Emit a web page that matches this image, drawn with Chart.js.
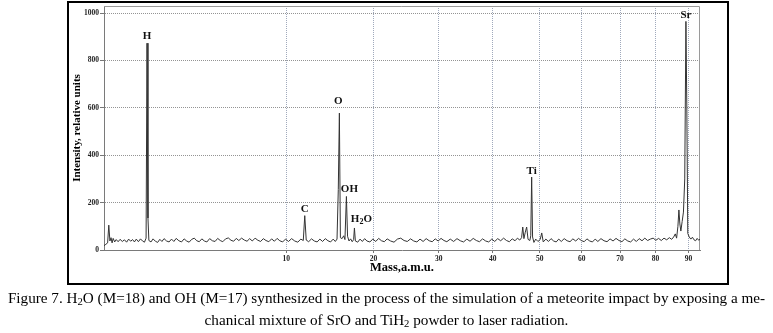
<!DOCTYPE html>
<html>
<head>
<meta charset="utf-8">
<script src="https://cdn.jsdelivr.net/npm/chart.js@4/dist/chart.umd.min.js"></script>
<style>
    body { margin: 0; background: #fff; width: 773px; height: 333px; position: relative; overflow: hidden; }
    #frame { position: absolute; left: 67px; top: 1px; width: 658px; height: 280px; border: 2px solid #000; }
    #chart { position: absolute; left: 0; top: 0; }
    #caption { position: absolute; left: 0; top: 287px; width: 773px; text-align: center;
        font-family: "Liberation Serif", serif; font-size: 15.2px; line-height: 22px; color: #000; }
    #caption sub { font-size: 0.7em; line-height: 0; vertical-align: -0.2em; }
</style>
</head>
<body>
<div id="frame"></div>
<canvas id="chart" width="773" height="290"></canvas>
<div id="caption">Figure 7. H<sub>2</sub>O (M=18) and OH (M=17) synthesized in the process of the simulation of a meteorite impact by exposing a me-<br>chanical mixture of SrO and TiH<sub>2</sub> powder to laser radiation.</div>

<script>
// SPECTRUM (mass in a.m.u., intensity in relative units)
const mass = [
    0.40, 0.43, 0.46, 0.48, 0.50, 0.52, 0.54, 0.56, 0.59, 0.62, 0.66, 0.70, 0.75, 0.80, 0.85, 0.90, 0.95,
    1.00, 1.05, 1.10, 1.16, 1.22, 1.28, 1.34, 1.39, 1.42, 1.45, 1.48, 1.55, 1.62, 1.70, 1.78, 1.86, 1.94,
    2.02, 2.12, 2.22, 2.32, 2.42, 2.52, 2.64, 2.76, 2.88, 3.00, 3.12, 3.25, 3.38, 3.51, 3.64, 3.78, 3.92,
    4.06, 4.22, 4.38, 4.54, 4.70, 4.86, 5.02, 5.20, 5.38, 5.56, 5.74, 5.92, 6.10, 6.30, 6.50, 6.70, 6.90,
    7.10, 7.32, 7.54, 7.76, 7.98, 8.20, 8.44, 8.68, 8.92, 9.16, 9.40, 9.66, 9.92,
    10.2, 10.5, 10.8, 11.1, 11.4, 11.65, 11.8, 11.95, 12.2, 12.5, 12.8, 13.1, 13.4, 13.7, 14.0, 14.3, 14.6,
    14.9, 15.15, 15.35, 15.5, 15.63, 15.75, 15.95, 16.15, 16.3, 16.48, 16.62, 16.8, 17.0, 17.2, 17.38, 17.48,
    17.6, 17.9, 18.2, 18.5, 18.8, 19.1, 19.5, 19.9,
    20.3, 20.7, 21.1, 21.5, 21.9, 22.4, 22.9, 23.4, 23.9, 24.4, 24.9, 25.4, 25.9, 26.4, 26.9, 27.4, 27.9,
    28.4, 28.9, 29.4, 29.9, 30.4, 30.9, 31.4, 32.0, 32.6, 33.2, 33.8, 34.4, 35.0, 35.6, 36.2, 36.8, 37.4,
    38.0, 38.6, 39.2, 39.8,
    40.4, 41.0, 41.6, 42.2, 42.8, 43.4, 44.0, 44.6, 45.1, 45.6, 46.0, 46.25, 46.5, 46.8, 47.1, 47.4, 47.8,
    48.0, 48.2, 48.4, 48.7, 49.1, 49.6, 50.1, 50.46, 50.8, 51.4, 52.0, 52.6, 53.2, 53.8, 54.4, 55.0, 55.7,
    56.4, 57.1, 57.8, 58.5, 59.2, 59.9,
    60.6, 61.3, 62.0, 62.7, 63.4, 64.1, 64.9, 65.7, 66.5, 67.3, 68.1, 68.9, 69.7, 70.5, 71.3, 72.1, 72.9,
    73.7, 74.5, 75.3, 76.1, 76.9, 77.7, 78.5, 79.3,
    80.1, 80.9, 81.7, 82.5, 83.3, 84.1, 84.8, 85.4, 85.9, 86.3, 86.7, 87.0, 87.3, 87.6, 88.0, 88.4, 88.8,
    89.17, 89.45, 89.75, 90.2, 90.7, 91.2, 91.7, 92.2, 92.7, 93.2, 93.6
];
const intensity = [
    18, 24, 30, 105, 38, 52, 30, 49, 34, 44, 35, 45, 36, 43, 33, 46, 37,
    44, 34, 46, 35, 47, 38, 33, 50, 873, 135, 40, 34, 47, 37, 32, 45, 36,
    48, 38, 34, 46, 36, 49, 39, 34, 47, 38, 33, 45, 50, 39, 35, 47, 38,
    34, 48, 39, 36, 49, 40, 35, 47, 51, 41, 37, 49, 40, 50, 42, 37, 48,
    38, 50, 41, 36, 48, 40, 35, 47, 37, 49, 39, 34, 46,
    36, 48, 38, 33, 46, 40, 145, 42, 35, 47, 38, 34, 46, 36, 48, 39, 34,
    46, 36, 46, 255, 578, 52, 48, 60, 44, 226, 58, 38, 47, 35, 44, 93,
    38, 33, 46, 36, 48, 38, 34, 46,
    36, 49, 39, 35, 47, 38, 33, 46, 50, 40, 36, 47, 38, 34, 46, 36, 48,
    39, 35, 47, 38, 49, 40, 35, 46, 36, 48, 39, 34, 46, 37, 49, 40, 35,
    47, 38, 34, 46,
    36, 48, 39, 50, 40, 35, 47, 39, 50, 42, 52, 97, 48, 75, 97, 45, 40,
    60, 308, 55, 32, 46, 36, 44, 72, 34, 46, 36, 48, 38, 34, 46, 36, 48,
    39, 35, 47, 38, 49, 40,
    35, 47, 38, 34, 46, 36, 48, 39, 35, 47, 38, 49, 40, 35, 47, 38, 34,
    46, 36, 48, 39, 50, 40, 46, 50,
    41, 49, 40, 50, 43, 52, 45, 55, 68, 50, 100, 169, 110, 80, 120, 160, 300,
    965, 600, 70, 55, 46, 54, 43, 39, 49, 41, 46
];

// PEAK NAMES AND THE MASS OF THE POINT EACH NAME BELONGS TO
const peakNames = ['H', 'C', 'O', 'OH', 'H2O', 'Ti', 'Sr'];
const peakMass = [1.42, 11.8, 15.63, 16.48, 17.48, 48.2, 89.17];

// AXIS TICKS
const massTicks = [10, 20, 30, 40, 50, 60, 70, 80, 90];
const intensityTicks = [0, 200, 400, 600, 800, 1000];
const massRange = [0.40, 93.6];
const intensityRange = [0, 1030];

// the time-of-flight axis is compressed like mass^0.45
const AXIS_POWER = 0.45;

class PowerScale extends Chart.LinearScale {
    getPixelForValue(value) {
        if (value === null || value === undefined) return NaN;
        const lo = Math.pow(this.min, AXIS_POWER);
        const hi = Math.pow(this.max, AXIS_POWER);
        return this.getPixelForDecimal((Math.pow(Math.max(value, 0), AXIS_POWER) - lo) / (hi - lo));
    }
    getValueForPixel(pixel) {
        const lo = Math.pow(this.min, AXIS_POWER);
        const hi = Math.pow(this.max, AXIS_POWER);
        return Math.pow(lo + this.getDecimalForPixel(pixel) * (hi - lo), 1 / AXIS_POWER);
    }
}
PowerScale.id = 'power';
Chart.register(PowerScale);

const serif = '"Liberation Serif", "Times New Roman", serif';

// label name shifts (dx, dy) from the peak top
const labelShift = {
    'H': [0, -7], 'C': [0, -6], 'O': [-1, -12], 'OH': [3, -7],
    'H2O': [7, -9], 'Ti': [0, -6], 'Sr': [0, -6]
};

function drawFormula(ctx, text, cx, cy) {
    const parts = text.split(/(\d+)/).filter(p => p.length);
    const big = 'bold 11px ' + serif;
    const small = 'bold 8px ' + serif;
    let total = 0;
    parts.forEach(p => {
        ctx.font = /\d/.test(p) ? small : big;
        total += ctx.measureText(p).width;
    });
    let x = cx - total / 2;
    parts.forEach(p => {
        const sub = /\d/.test(p);
        ctx.font = sub ? small : big;
        ctx.fillText(p, x, sub ? cy + 3 : cy);
        x += ctx.measureText(p).width;
    });
}

const peakLabels = {
    id: 'peakLabels',
    afterDatasetsDraw(chart) {
        const {ctx, scales} = chart;
        ctx.save();
        ctx.fillStyle = '#111';
        ctx.textAlign = 'left';
        ctx.textBaseline = 'middle';
        peakNames.forEach((name, i) => {
            const top = intensity[mass.indexOf(peakMass[i])];
            const shift = labelShift[name];
            const px = scales.x.getPixelForValue(peakMass[i]) + shift[0];
            const py = scales.y.getPixelForValue(top) + shift[1];
            drawFormula(ctx, name, px, py);
        });
        ctx.restore();
    }
};

// thin grey frame on the top and right of the plot
const plotFrame = {
    id: 'plotFrame',
    beforeDatasetsDraw(chart) {
        const {ctx, chartArea} = chart;
        ctx.save();
        ctx.strokeStyle = '#9a9a9a';
        ctx.lineWidth = 1;
        ctx.beginPath();
        ctx.moveTo(chartArea.left, Math.round(chartArea.top) + 0.5);
        ctx.lineTo(Math.round(chartArea.right) - 0.5, Math.round(chartArea.top) + 0.5);
        ctx.lineTo(Math.round(chartArea.right) - 0.5, chartArea.bottom);
        ctx.stroke();
        ctx.restore();
    }
};

const plainNumber = v => String(v);

new Chart(document.getElementById('chart'), {
    type: 'line',
    data: {
        datasets: [{
            data: mass.map((m, i) => ({x: m, y: intensity[i]})),
            borderColor: '#333',
            borderWidth: 1,
            pointRadius: 0,
            tension: 0,
            fill: false
        }]
    },
    options: {
        responsive: false,
        animation: false,
        devicePixelRatio: 1,
        layout: {padding: {left: 70, right: 73, top: 6, bottom: 15}},
        plugins: {legend: {display: false}, tooltip: {enabled: false}},
        scales: {
            x: {
                type: 'power',
                min: massRange[0],
                max: massRange[1],
                bounds: 'data',
                afterBuildTicks: s => { s.ticks = massTicks.map(v => ({value: v})); },
                afterFit: s => { s.height = 25; },
                grid: {color: '#a0a9bc', lineWidth: 1, tickLength: 3, tickColor: '#777', tickBorderDash: []},
                border: {color: '#7a7a7a', width: 1, dash: [1, 1]},
                ticks: {font: {family: serif, size: 7.5, weight: 'bold'}, color: '#222', padding: 2,
                    maxRotation: 0, callback: plainNumber},
                title: {display: true, text: 'Mass,a.m.u.', color: '#000',
                    font: {family: serif, size: 12.5, weight: 'bold'}, padding: {top: 0, bottom: 0}}
            },
            y: {
                min: intensityRange[0],
                max: intensityRange[1],
                bounds: 'data',
                afterBuildTicks: s => { s.ticks = intensityTicks.map(v => ({value: v})); },
                afterFit: s => { s.width = 34; },
                grid: {color: '#949494', lineWidth: 1, tickLength: 4, tickColor: '#777', tickBorderDash: []},
                border: {color: '#7a7a7a', width: 1, dash: [1, 1]},
                ticks: {font: {family: serif, size: 7.5, weight: 'bold'}, color: '#222', padding: 1,
                    callback: plainNumber},
                title: {display: true, text: 'Intensity, relative units', color: '#000',
                    font: {family: serif, size: 11, weight: 'bold'}, padding: {top: 1, bottom: 0}}
            }
        }
    },
    plugins: [plotFrame, peakLabels]
});
</script>
</body>
</html>
